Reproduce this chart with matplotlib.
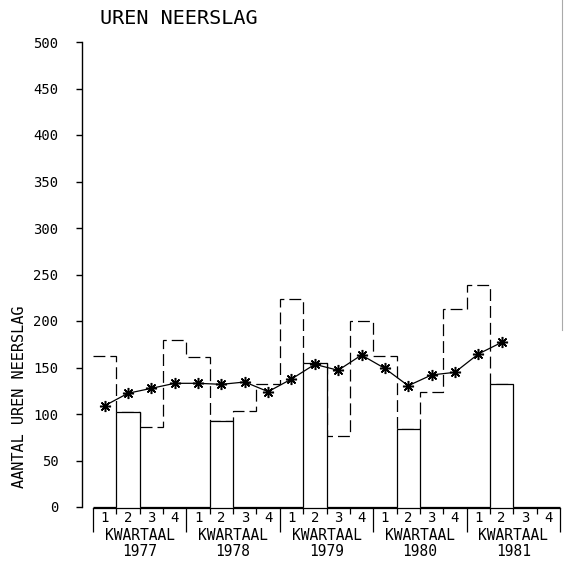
import matplotlib
matplotlib.use("Agg")
import matplotlib.pyplot as plt
import matplotlib.transforms as mtransforms
from matplotlib.lines import Line2D
import numpy as np

# kwartaalcijfers uren neerslag, 1977 K1 t/m 1981 K2
jaren = ["1977", "1978", "1979", "1980", "1981"]
kwartalen = ["1", "2", "3", "4"]
uren = [162.7, 101.8, 86.3, 179.6,
        161.6, 92.8, 103.2, 131.9,
        223.3, 154.5, 76.3, 200.0,
        162.7, 83.9, 123.7, 212.9,
        238.7, 131.9]
# tweede kwartaal, apart uitgelicht als kolom
uren_k2 = [101.8, 92.8, 154.5, 83.9, 131.9]
# voortschrijdend gemiddelde (*)
gemiddeld = [108.9, 122.3, 127.6, 133.0,
             133.0, 131.9, 134.4, 124.0,
             137.6, 153.4, 147.0, 163.4,
             149.0, 130.4, 142.0, 144.8,
             164.5, 177.0]

plt.rcParams["font.family"] = "DejaVu Sans Mono"

W, H = 564, 573
fig = plt.figure(figsize=(W / 100, H / 100), dpi=100)
fig.patch.set_facecolor("white")

# assen: kwartaal i loopt van x=i tot x=i+1
px_x0, px_q = 93.0, 23.35      # pixel links, pixels per kwartaal
px_y0, px_u = 507.0, 0.93      # pixel van nul, pixels per uur
L, R, T, B = 70, 562, 40, 515
ax = fig.add_axes([L / W, 1 - B / H, (R - L) / W, (B - T) / H])
ax.set_xlim((L - px_x0) / px_q, (R - px_x0) / px_q)
ax.set_ylim((px_y0 - B) / px_u, (px_y0 - T) / px_u)
ax.patch.set_alpha(0)

n_kw = len(jaren) * 4
randen = np.arange(n_kw + 1)

# stippellijn per kwartaal
ax.stairs(uren, randen[:len(uren) + 1], baseline=None, color="black",
          lw=0.9, linestyle=(0, (9.5, 4)), zorder=2)

# doorgetrokken lijn: alleen het tweede kwartaal heeft een kolom
k2_vol = np.zeros(n_kw)
k2_vol[1::4] = uren_k2
ax.stairs(k2_vol, randen, baseline=0, fill=True, facecolor="white",
          edgecolor="none", zorder=3)
ax.stairs(k2_vol, randen, baseline=0, color="black", lw=0.9, zorder=4)

# gemiddelde met sterretjes
xm = np.arange(len(gemiddeld)) + 0.5
ax.plot(xm, gemiddeld, color="black", lw=0.9, marker=(8, 2, 0),
        markersize=8, markeredgewidth=1.1, zorder=5)

# y-as
for s in ["top", "right"]:
    ax.spines[s].set_visible(False)
ax.spines["left"].set_position(("data", (82 - px_x0) / px_q))
ax.spines["left"].set_bounds(0, 500)
ax.spines["left"].set_linewidth(1.0)
ax.set_yticks(np.arange(0, 501, 50))
ax.tick_params(axis="y", direction="out", length=4, width=1.0, pad=13,
               labelsize=10, colors="black")

# x-as met kwartaalstreepjes en lange jaarstrepen
ax.spines["bottom"].set_position(("data", -1.2))
ax.spines["bottom"].set_bounds(0, n_kw)
ax.spines["bottom"].set_linewidth(0.9)
ax.set_xticks(randen[::4])
ax.set_xticklabels([])
ax.set_xticks([r for r in randen if r % 4 != 0] + [0], minor=True)
ax.tick_params(axis="x", which="major", direction="out", length=17, width=0.9)
ax.tick_params(axis="x", which="minor", direction="out", length=4, width=0.9)
ax.spines["bottom"].set_zorder(1)

trans = mtransforms.blended_transform_factory(ax.transData, fig.transFigure)
for j, jaar in enumerate(jaren):
    for q, kw in enumerate(kwartalen):
        ax.text(j * 4 + q + 0.5, 1 - 518 / H, kw, transform=trans,
                ha="center", va="center", fontsize=10, clip_on=False)
    ax.text(j * 4 + 2, 1 - 536 / H, "KWARTAAL", transform=trans,
            ha="center", va="center", fontsize=10.5, clip_on=False)
    ax.text(j * 4 + 2, 1 - 551 / H, jaar, transform=trans,
            ha="center", va="center", fontsize=10.5, clip_on=False)

fig.text(20 / W, 1 - 397 / H, "AANTAL UREN NEERSLAG", rotation=90,
         ha="center", va="center", fontsize=11)
fig.text(100 / W, 1 - 18 / H, "UREN NEERSLAG", ha="left", va="center",
         fontsize=14.5)

# rand van het papier rechts
fig.add_artist(Line2D([562 / W, 562 / W], [1.0, 1 - 330 / H],
                      transform=fig.transFigure, color="#aaaaaa", lw=0.8))

fig.savefig("out.png", dpi=100, facecolor="white")
